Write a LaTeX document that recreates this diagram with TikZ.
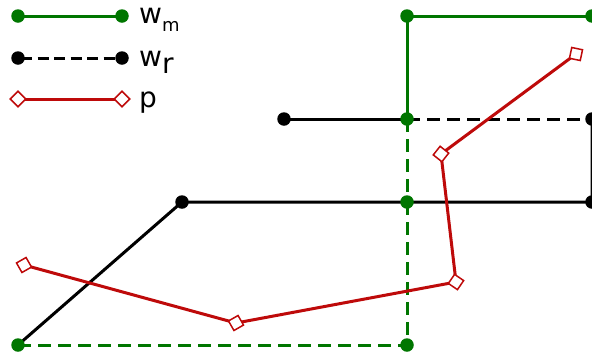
\documentclass[tikz,border=0pt]{standalone}
\usepackage{fontspec}
\setmainfont{DejaVu Sans}
\definecolor{gm}{RGB}{0,118,0}
\definecolor{rp}{RGB}{190,10,10}
\begin{document}
\begin{tikzpicture}[x=1pt,y=-1pt,
  gline/.style={draw=gm,line width=3pt},
  bline/.style={draw=black,line width=3pt},
  rline/.style={draw=rp,line width=3pt},
  dashline/.style={dash pattern=on 13pt off 7pt},
  gdot/.style={circle,fill=gm,inner sep=0pt,minimum size=13.5pt},
  bdot/.style={circle,fill=black,inner sep=0pt,minimum size=13.5pt},
  mk/.style={rectangle,draw=rp,fill=white,line width=1.5pt,inner sep=0pt,minimum size=11pt},
  lbl/.style={anchor=west,inner sep=0pt,font=\fontsize{28}{28}\selectfont}]
\useasboundingbox (0,0) rectangle (592,354);
% coordinates
\coordinate (g1) at (407,16);
\coordinate (g2) at (592,16);
\coordinate (g3) at (407,119);
\coordinate (g4) at (407,202);
\coordinate (g5) at (407,345);
\coordinate (g6) at (18,345);
\coordinate (b1) at (284,119);
\coordinate (b2) at (592,119);
\coordinate (b3) at (592,202);
\coordinate (b4) at (182,202);
\coordinate (p1) at (24,265);
\coordinate (p2) at (236,323);
\coordinate (p3) at (456,282);
\coordinate (p4) at (441,154);
\coordinate (p5) at (576,54);
% black lines
\draw[bline] (b1) -- (g3);
\draw[bline,dashline] (g3) -- (b2);
\draw[bline] (b2) -- (b3) -- (b4) -- (g6);
% green lines
\draw[gline] (g2) -- (g1) -- (g3);
\draw[gline,dashline] (g3) -- (g4);
\draw[gline,dashline] (g4) -- (g5);
\draw[gline,dashline] (g6) -- (g5);
% red
\draw[rline] (p1) -- (p2) -- (p3) -- (p4) -- (p5);
% dots
\node[bdot] (B1) at (b1) {};
\node[bdot] (B2) at (b2) {};
\node[bdot] (B3) at (b3) {};
\node[bdot] (B4) at (b4) {};
\node[gdot] (G1) at (g1) {};
\node[gdot] (G2) at (g2) {};
\node[gdot] (G3) at (g3) {};
\node[gdot] (G4) at (g4) {};
\node[gdot] (G5) at (g5) {};
\node[gdot] (G6) at (g6) {};
% markers
\node[mk,rotate=29.7] (P1) at (p1) {};
\node[mk,rotate=29.7] (P2) at (p2) {};
\node[mk,rotate=55.6] (P3) at (p3) {};
\node[mk,rotate=51.7] (P4) at (p4) {};
\node[mk,rotate=-12] (P5) at (p5) {};
% legend
\coordinate (l1a) at (18,16); \coordinate (l1b) at (122,16);
\coordinate (l2a) at (18,58); \coordinate (l2b) at (122,58);
\coordinate (l3a) at (18,99); \coordinate (l3b) at (122,99);
\draw[gline] (l1a) -- (l1b);
\draw[bline,dash pattern=on 11pt off 5.5pt,dash phase=-3pt] (l2a) -- (l2b);
\draw[rline] (l3a) -- (l3b);
\node[gdot] (L1a) at (l1a) {};
\node[gdot] (L1b) at (l1b) {};
\node[bdot] (L2a) at (l2a) {};
\node[bdot] (L2b) at (l2b) {};
\node[mk,rotate=45] (L3a) at (l3a) {};
\node[mk,rotate=45] (L3b) at (l3b) {};
\node[lbl] (t1) at (139,20) {w\raisebox{-8pt}{\fontsize{18}{18}\selectfont m}};
\node[lbl] (t2) at (139,62) {w\raisebox{-7pt}{r}};
\node[lbl] (t3) at (139,103) {p};
\end{tikzpicture}
\end{document}
